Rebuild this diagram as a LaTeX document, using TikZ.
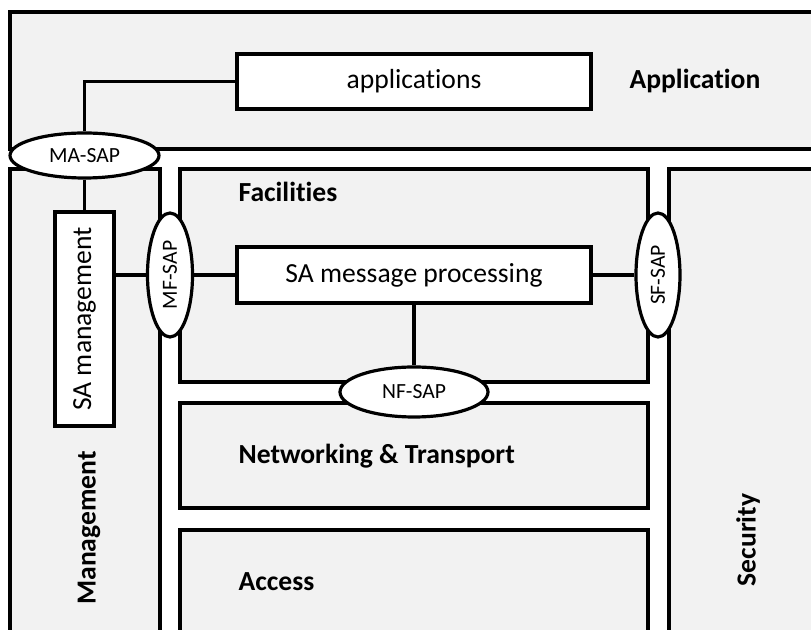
\documentclass[tikz,border=0pt]{standalone}
\usepackage{graphicx}
\usepackage{fontspec}
\setmainfont[Ligatures=NoCommon]{Carlito}
\usetikzlibrary{shapes.geometric,positioning}
\definecolor{layergray}{HTML}{F2F2F2}

\begin{document}
\begin{tikzpicture}[x=0.5pt,y=-0.5pt,line width=1.6pt,
	layer/.style={draw,fill=layergray},
	blk/.style={draw,fill=white,inner sep=0pt,font=\fontsize{13.8}{16}\selectfont},
	sap/.style={ellipse,draw,fill=white,inner sep=0pt,font=\fontsize{10.8}{12}\selectfont},
	title/.style={inner sep=0pt,font=\fontsize{13.8}{16}\selectfont\bfseries}]
	\useasboundingbox (0,0) rectangle (811,630);
	\clip (0,0) rectangle (811,630);
	% layers
	\draw[layer] (10,12) rectangle (830,149);
	\draw[layer] (10,169) rectangle (160,650);
	\draw[layer] (180,169) rectangle (648,382);
	\draw[layer] (180,403) rectangle (648,508);
	\draw[layer] (180,530) rectangle (648,650);
	\draw[layer] (669,169) rectangle (830,650);
	% layer names
	\node[title,anchor=base west] (app_t) at (628,89) {Application};
	\node[title,anchor=base west] (fac_t) at (237,202) {Facilities};
	\node[title,anchor=base west] (net_t) at (237,464) {Networking \& Transport};
	\node[title,anchor=base west] (acc_t) at (237,591) {Access};
	\node[title,rotate=90] (mgt_t) at (89,528) {Management};
	\node[title,rotate=90] (sec_t) at (748,540) {Security};
	% blocks
	\node[blk,minimum width=177pt,minimum height=27.5pt] (apps) at (414,81.5) {applications};
	\node[blk,minimum width=177pt,minimum height=28pt] (sa_msg) at (414,275) {SA message processing};
	\node[blk,minimum width=29.5pt,minimum height=107pt] (sa_mgt) at (84.5,319) {\rotatebox{90}{SA management}};
	% access points
	\node[sap,minimum width=74.5pt,minimum height=22.5pt] (ma_sap) at (84.5,155.5) {MA-SAP};
	\node[sap,minimum width=22.5pt,minimum height=62pt] (mf_sap) at (170,275) {\rotatebox{90}{MF-SAP}};
	\node[sap,minimum width=22pt,minimum height=62pt] (sf_sap) at (658,275) {\rotatebox{90}{SF-SAP}};
	\node[sap,minimum width=74pt,minimum height=25pt] (nf_sap) at (414,392) {NF-SAP};
	% links
	\draw[line width=1.9pt] (ma_sap.north) |- (apps.west);
	\draw[line width=1.9pt] (ma_sap) -- (sa_mgt);
	\draw[line width=1.9pt] (mf_sap) -- (mf_sap -| sa_mgt.east);
	\draw[line width=1.9pt] (mf_sap) -- (sa_msg);
	\draw[line width=1.9pt] (sa_msg) -- (sf_sap);
	\draw[line width=1.9pt] (sa_msg) -- (nf_sap);
\end{tikzpicture}
\end{document}
